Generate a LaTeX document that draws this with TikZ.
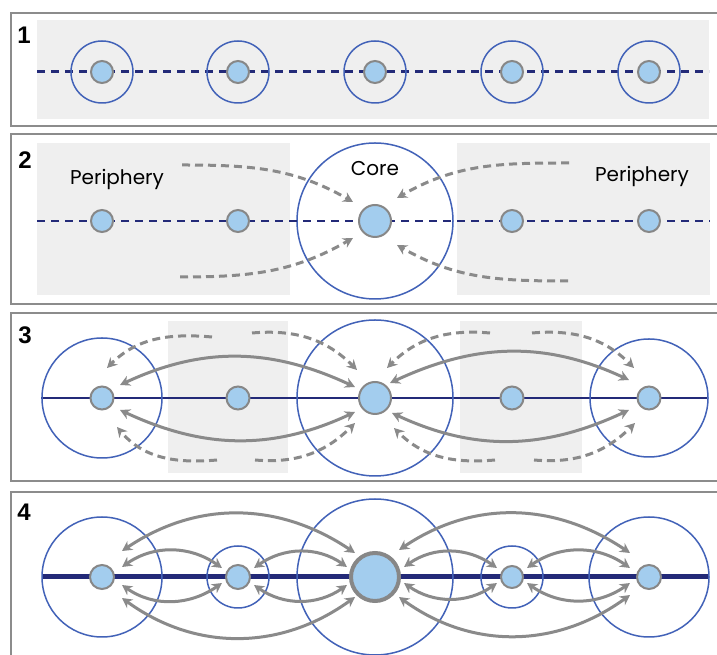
\documentclass[tikz,border=0pt]{standalone}
\usepackage{fontspec}
\setmainfont{Poppins}
\newfontfamily\numfont{Liberation Sans}
\usetikzlibrary{arrows.meta,calc}
\definecolor{framegray}{HTML}{8C8C8C}
\definecolor{panelbg}{HTML}{EFEFEF}
\definecolor{ringblue}{HTML}{4262B8}
\definecolor{navyline}{HTML}{232A78}
\definecolor{dotfill}{HTML}{A3CDEE}
\definecolor{dotedge}{HTML}{878787}
\definecolor{arrgray}{HTML}{8A8A8A}
\tikzset{
  frame/.style={draw=framegray, line width=2pt},
  bgbox/.style={fill=panelbg, draw=none},
  ring/.style={circle, draw=ringblue, line width=1.5pt, inner sep=0pt, minimum size=#1},
  dot/.style={circle, draw=dotedge, fill=dotfill, line width=2pt, inner sep=0pt, minimum size=#1},
  tipS/.tip={Stealth[length=10pt,width=10.5pt]},
  flow/.style={draw=arrgray, line width=3pt, tipS-tipS},
  dflow/.style={draw=arrgray, line width=3pt, dash pattern=on 8pt off 5pt, -tipS},
  numlabel/.style={font=\numfont\bfseries\fontsize{24}{24}\selectfont, inner sep=0pt},
  txt/.style={font=\fontsize{20}{20}\selectfont, inner sep=0pt},
}
\begin{document}
\begin{tikzpicture}[x=1pt,y=1pt]
\useasboundingbox (0,0) rectangle (717,655);
\fill[white] (0,0) rectangle (717,655);

% ---------------- Panel 1 ----------------
\draw[frame] (11,642) rectangle (722,529);
\fill[bgbox] (37,635) rectangle (709,536);
\node[numlabel] (lab1) at (24,620) {1};
\draw[navyline, line width=3pt, dash pattern=on 8pt off 6pt] (37,583) -- (709,583);
\foreach \n/\x in {a/102,b/238,c/375,d/512,e/649}{
  \node[ring=62pt] (h1\n) at (\x,583) {};
  \node[dot=22pt] (p1\n) at (\x,583) {};
}

% ---------------- Panel 2 ----------------
\draw[frame] (11,521) rectangle (722,351);
\fill[bgbox] (37,512) rectangle (290,360);
\fill[bgbox] (457,512) rectangle (710,360);
\node[numlabel] (lab2) at (25,495) {2};
\node[ring=156pt] (h2c) at (375,434) {};
\draw[navyline, line width=1.6pt, dash pattern=on 8pt off 6pt] (37,434) -- (710,434);
\node[dot=22pt] (p2a) at (102,434) {};
\node[dot=22pt] (p2b) at (238,434) {};
\node[dot=32pt] (p2c) at (375,434) {};
\node[dot=22pt] (p2d) at (512,434) {};
\node[dot=22pt] (p2e) at (649,434) {};
\node[txt] (per1) at (117,476) {Periphery};
\node[txt] (per2) at (642,479) {Periphery};
\node[txt] (core) at (375,486) {Core};
\coordinate (d1) at (182,490);
\coordinate (d2) at (180,378);
\coordinate (d3) at (569,492);
\coordinate (d4) at (568,374);
\draw[dflow] (d1) to[out=0,in=150] ($(p2c)+(-22,19)$);
\draw[dflow] (d2) to[out=0,in=-150] ($(p2c)+(-22,-17)$);
\draw[dflow] (d3) to[out=180,in=30] ($(p2c)+(22,23)$);
\draw[dflow] (d4) to[out=180,in=-30] ($(p2c)+(22,-24)$);

% ---------------- Panel 3 ----------------
\draw[frame] (11,342) rectangle (722,174);
\fill[bgbox] (168,334) rectangle (288,182);
\fill[bgbox] (460,334) rectangle (582,182);
\node[numlabel] (lab3) at (25,320) {3};
\draw[navyline, line width=2pt] (41,257) -- (707,257);
\node[ring=120pt] (h3a) at (102,257) {};
\node[ring=156pt] (h3c) at (375,257) {};
\node[ring=118pt] (h3e) at (649,257) {};
\node[dot=23pt] (p3a) at (102,257) {};
\node[dot=23pt] (p3b) at (238,257) {};
\node[dot=32pt] (p3c) at (375,257) {};
\node[dot=23pt] (p3d) at (512,257) {};
\node[dot=23pt] (p3e) at (649,257) {};
% solid two-way flows
\draw[flow] ($(p3a)+(18,13)$) to[out=25,in=155] ($(p3c)+(-20,11)$);
\draw[flow] ($(p3a)+(18,-12)$) to[out=-25,in=-155] ($(p3c)+(-20,-14)$);
\draw[flow] ($(p3c)+(15,15)$) to[out=25,in=155] ($(p3e)+(-20,18)$);
\draw[flow] ($(p3c)+(17,-15)$) to[out=-25,in=-155] ($(p3e)+(-20,-12)$);
% dashed flows
\coordinate (e1) at (212,318);
\coordinate (e2) at (252,322);
\coordinate (e3) at (217,195);
\coordinate (e4) at (255,195);
\coordinate (e5) at (490,322);
\coordinate (e6) at (532,322);
\coordinate (e7) at (495,195);
\coordinate (e8) at (534,195);
\draw[dflow] (e1) to[out=175,in=45] ($(p3a)+(5,30)$);
\draw[dflow] (e2) to[out=5,in=135] ($(p3c)+(-18,28)$);
\draw[dflow] (e3) to[out=185,in=-50] ($(p3a)+(15,-29)$);
\draw[dflow] (e4) to[out=-5,in=-135] ($(p3c)+(-20,-25)$);
\draw[dflow] (e5) to[out=175,in=45] ($(p3c)+(12,30)$);
\draw[dflow] (e6) to[out=5,in=135] ($(p3e)+(-15,30)$);
\draw[dflow] (e7) to[out=185,in=-45] ($(p3c)+(19,-30)$);
\draw[dflow] (e8) to[out=-5,in=-135] ($(p3e)+(-14,-25)$);

% ---------------- Panel 4 ----------------
\draw[frame] (11,-10) -- (11,163) -- (722,163);
\node[numlabel] (lab4) at (24,143) {4};
\draw[navyline, line width=5pt] (43,78) -- (709,78);
\node[ring=120pt] (h4a) at (102,78) {};
\node[ring=62pt] (h4b) at (238,78) {};
\node[ring=156pt] (h4c) at (375,78) {};
\node[ring=62pt] (h4d) at (512,78) {};
\node[ring=120pt] (h4e) at (649,78) {};
\node[dot=24pt] (p4a) at (102,78) {};
\node[dot=24pt] (p4b) at (238,78) {};
\node[dot=48pt, line width=4pt] (p4c) at (375,78) {};
\node[dot=22pt] (p4d) at (512,78) {};
\node[dot=24pt] (p4e) at (649,78) {};
% long arcs
\draw[flow] ($(p4a)+(20,26)$) to[out=34,in=146] ($(p4c)+(-20,24)$);
\draw[flow] ($(p4c)+(24,27)$) to[out=34,in=146] ($(p4e)+(-19,24)$);
\draw[flow] ($(p4a)+(20,-21)$) to[out=-36,in=-144] ($(p4c)+(-20,-20)$);
\draw[flow] ($(p4c)+(24,-20)$) to[out=-36,in=-144] ($(p4e)+(-19,-18)$);
% short arcs
\draw[flow] ($(p4a)+(20,10)$) to[out=35,in=145] ($(p4b)+(-16,9)$);
\draw[flow] ($(p4a)+(20,-8)$) to[out=-35,in=-145] ($(p4b)+(-16,-6)$);
\draw[flow] ($(p4b)+(16,9)$) to[out=35,in=145] ($(p4c)+(-28,10)$);
\draw[flow] ($(p4b)+(16,-8)$) to[out=-35,in=-145] ($(p4c)+(-28,-8)$);
\draw[flow] ($(p4c)+(29,10)$) to[out=35,in=145] ($(p4d)+(-15,9)$);
\draw[flow] ($(p4c)+(29,-6)$) to[out=-35,in=-145] ($(p4d)+(-15,-6)$);
\draw[flow] ($(p4d)+(15,9)$) to[out=35,in=145] ($(p4e)+(-19,9)$);
\draw[flow] ($(p4d)+(15,-6)$) to[out=-35,in=-145] ($(p4e)+(-19,-6)$);
\end{tikzpicture}
\end{document}
